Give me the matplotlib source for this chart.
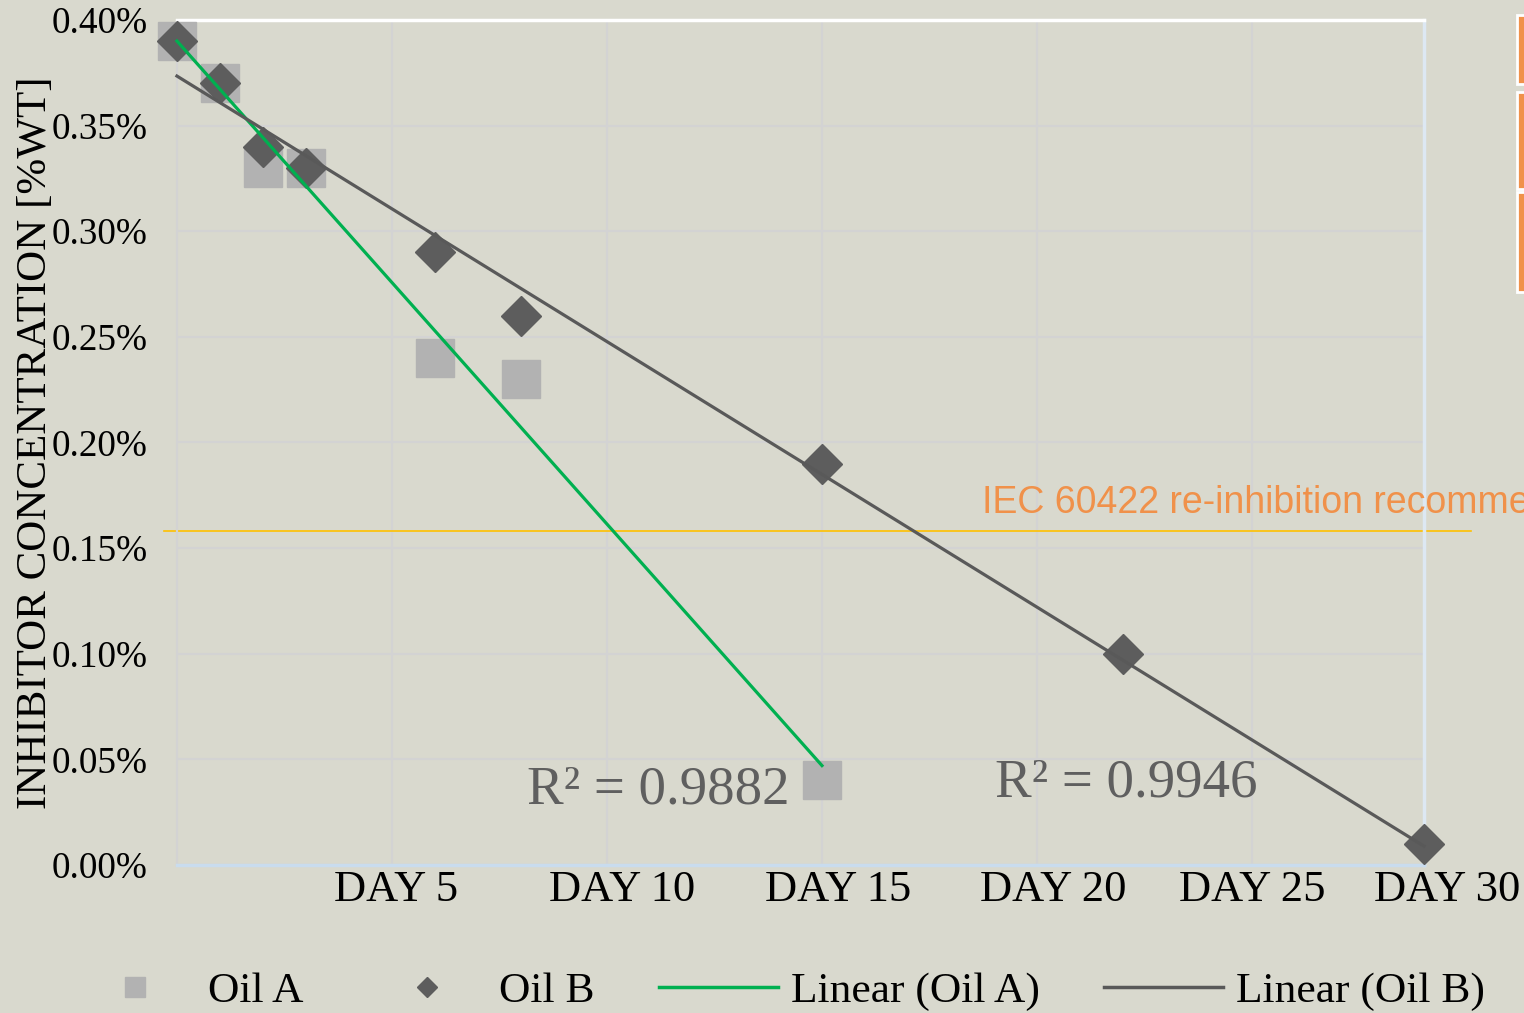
import numpy as np
import matplotlib
matplotlib.use("Agg")
from matplotlib import pyplot as plt
from matplotlib.lines import Line2D
from matplotlib.patches import Rectangle

plt.rcParams['font.family'] = ['Liberation Serif', 'DejaVu Serif']

# data (inhibitor concentration in %wt, by day)
days_a = [0, 1, 2, 3, 6, 8, 15]
oil_a = [0.39, 0.37, 0.33, 0.33, 0.24, 0.23, 0.04]
days_b = [0, 1, 2, 3, 6, 8, 15, 22, 29]
oil_b = [0.39, 0.37, 0.34, 0.33, 0.29, 0.26, 0.19, 0.10, 0.01]
r2_a = "R\u00b2 = 0.9882"
r2_b = "R\u00b2 = 0.9946"
limit = 0.158  # IEC 60422 re-inhibition line
grid_days = [5, 10, 15, 20, 25]
day_labels = ["DAY 5", "DAY 10", "DAY 15", "DAY 20", "DAY 25", "DAY 30"]
day_label_pos = [5.1, 10.35, 15.37, 20.37, 25.0, 29.55]
y_ticks = [0.0, 0.05, 0.10, 0.15, 0.20, 0.25, 0.30, 0.35, 0.40]

bg = '#d9d9ce'
fig = plt.figure(figsize=(15.24, 10.13), dpi=100, facecolor=bg)
ax = fig.add_axes([0.1161, 0.1461, 0.8183, 0.8342])
ax.set_facecolor(bg)

# 散点
ax.plot(days_a, oil_a, 's', color='#b2b2b2', ms=27, zorder=3, clip_on=False)
ax.plot(days_b, oil_b, 'D', color='#5d5d5d', ms=20, zorder=4, clip_on=False)

# 线性趋势线
ka, ba = np.polyfit(days_a, oil_a, 1)
kb, bb = np.polyfit(days_b, oil_b, 1)
xa = np.array([days_a[0], days_a[-1]])
xb = np.array([days_b[0], days_b[-1]])
ax.plot(xa, ka * xa + ba, color='#00b050', lw=2.3, zorder=5, clip_on=False)
ax.plot(xb, kb * xb + bb, color='#595959', lw=2.3, zorder=5, clip_on=False)

# 横线 + 说明
ax.plot([-0.3, 30.1], [limit, limit], color='#ffc000', lw=1.2, clip_on=False, zorder=2)
ax.text(18.72, 0.1715, "IEC 60422 re-inhibition recommended", color='#f0914a',
        fontsize=27, family=['Liberation Sans'], ha='left', va='center', clip_on=False)

ax.text(8.14, 0.0352, r2_a, color='#5f5f5f', fontsize=39.5, ha='left', va='center')
ax.text(19.02, 0.0385, r2_b, color='#5f5f5f', fontsize=39.5, ha='left', va='center')

ax.set_xlim(0, 29)
ax.set_ylim(0, 0.40)
ax.set_xticks(grid_days)
ax.set_xticklabels([])
ax.set_yticks(y_ticks)
ax.set_yticklabels(["{:.2f}%".format(v) for v in y_ticks], fontsize=26.8)
ax.tick_params(length=0, pad=21)
ax.grid(True, color='#d3d3d3', lw=1.6, zorder=0)
ax.set_axisbelow(True)

for lab, pos in zip(day_labels, day_label_pos):
    ax.text(pos, -0.03, lab, transform=ax.get_xaxis_transform(), fontsize=32,
            ha='center', va='center', clip_on=False)

ax.set_ylabel("INHIBITOR CONCENTRATION [%WT]", fontsize=31)
ax.yaxis.set_label_coords(-0.098, 0.5)

ax.spines['top'].set_color('white')
ax.spines['top'].set_linewidth(2.5)
ax.spines['right'].set_color('#dde8f3')
ax.spines['right'].set_linewidth(2.5)
ax.spines['bottom'].set_color('#c9dcee')
ax.spines['bottom'].set_linewidth(2.5)
ax.spines['left'].set_color('#d3d3d3')
ax.spines['left'].set_linewidth(1.6)

# 图例
handles = [
    Line2D([], [], ls='none', marker='s', color='#b2b2b2', ms=14),
    Line2D([], [], ls='none', marker='D', color='#5d5d5d', ms=10),
    Line2D([], [], color='#00b050', lw=2.5),
    Line2D([], [], color='#595959', lw=2.5),
]
labels = ["Oil A", "Oil B", "Linear (Oil A)", "Linear (Oil B)"]
fig.legend(handles, labels, loc='center', bbox_to_anchor=(0.5121, 0.0217), ncol=4,
           frameon=False, fontsize=31.3, handlelength=2.72, handletextpad=0.3,
           columnspacing=1.49, borderpad=0, numpoints=1)

# 右侧被截断的橙色框
for y0, y1 in [(15, 84), (92, 189), (192, 292)]:
    fig.patches.append(Rectangle((1517 / 1524, 1 - y1 / 1013), 0.01, (y1 - y0) / 1013,
                                 transform=fig.transFigure, facecolor='#f0914a',
                                 edgecolor='white', lw=2))

fig.savefig("out.png", dpi=100, facecolor=bg)
